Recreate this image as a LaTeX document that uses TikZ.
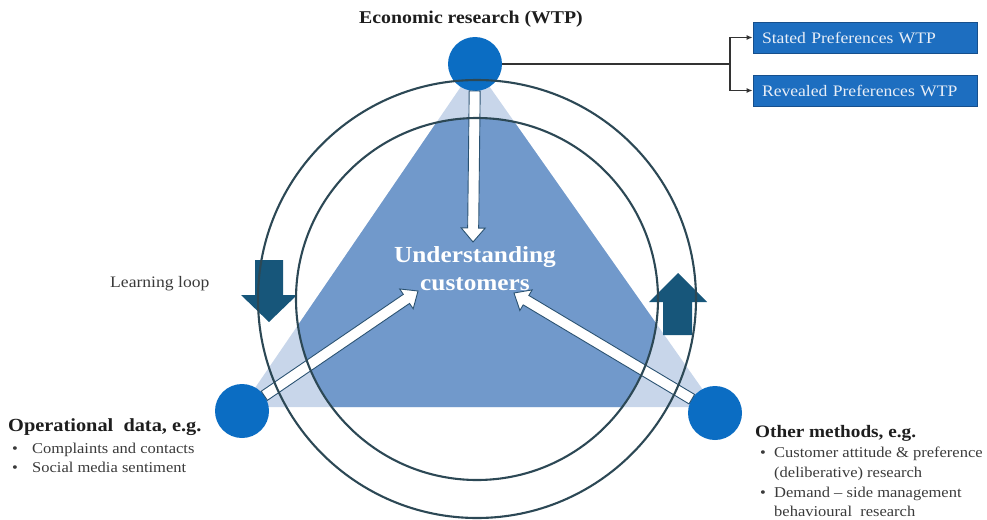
\documentclass[tikz,border=0pt]{standalone}
\usepackage{fontspec}
\setmainfont{Liberation Serif}[FakeStretch=1.1]
\usetikzlibrary{calc,arrows.meta}

\definecolor{hubblue}{HTML}{0B6DC3}
\definecolor{trilight}{HTML}{C8D6EA}
\definecolor{tridark}{HTML}{7199CB}
\definecolor{ringline}{HTML}{2C4855}
\definecolor{loopteal}{HTML}{17567A}
\definecolor{hollowedge}{HTML}{2A5272}
\definecolor{boxfill}{HTML}{1D6EC0}
\definecolor{boxedge}{HTML}{164F8C}
\definecolor{boxtext}{HTML}{E8EEF7}
\definecolor{labeltext}{HTML}{1E1E1E}
\definecolor{listtext}{HTML}{3A3A3A}

% hollow white arrow from node #1 to tip coordinate #2
\newcommand\hollowarrow[2]{%
  \path ($(#1)!27pt!(#2)$) coordinate (ha-s)
        ($(#2)!14pt!(#1)$) coordinate (ha-h);
  \filldraw[hollow]
    ($(ha-s)!5.5pt!90:(#2)$) -- ($(ha-h)!5.5pt!90:(#2)$) --
    ($(ha-h)!12pt!90:(#2)$) -- (#2) --
    ($(ha-h)!12pt!-90:(#2)$) -- ($(ha-h)!5.5pt!-90:(#2)$) --
    ($(ha-s)!5.5pt!-90:(#2)$) -- cycle;}

\begin{document}
\begin{tikzpicture}[x=1pt,y=-1pt,
  hubdot/.style={circle,fill=hubblue,minimum size=54pt,inner sep=0pt},
  ring/.style={draw=ringline,line width=2.1pt},
  hollow/.style={fill=white,draw=hollowedge,line width=0.9pt,line join=miter},
  loopshape/.style={fill=loopteal},
  conn/.style={draw=black!80,line width=1.1pt},
  prefbox/.style={fill=boxfill,draw=boxedge,line width=0.8pt,text=boxtext,
    minimum height=31pt,text width=206pt,align=left,inner xsep=9pt,
    font=\fontsize{16}{18}\selectfont},
  headlab/.style={text=labeltext,inner sep=0pt,
    font=\fontsize{18}{20}\selectfont\bfseries},
  sidelab/.style={text=labeltext,inner sep=0pt,
    font=\fontsize{17.5}{20}\selectfont\bfseries},
  listline/.style={text=listtext,inner sep=0pt,
    font=\fontsize{15}{18}\selectfont},
  looplab/.style={text=listtext,inner sep=0pt,
    font=\fontsize{16}{18}\selectfont},
  centrelab/.style={text=white,inner sep=0pt,align=center,
    font=\fontsize{23}{28}\selectfont\bfseries}]
\useasboundingbox (0,0) rectangle (987,519);

% geometry
\coordinate (ctr) at (477,299);
\coordinate (vT) at (475,66);
\coordinate (vL) at (242,407);
\coordinate (vR) at (715,407);

% shaded triangle, darker inside the inner ring
\fill[trilight] (vT) -- (vL) -- (vR) -- cycle;
\begin{scope}
  \clip (ctr) circle[radius=181pt];
  \fill[tridark] (vT) -- (vL) -- (vR) -- cycle;
\end{scope}

% learning-loop block arrows
\fill[loopshape] (255,260) -- (283,260) -- (283,295) -- (297,295) --
  (269,322) -- (241,295) -- (255,295) -- cycle;
\fill[loopshape] (663,335) -- (692,335) -- (692,302) -- (707,302) --
  (678,273) -- (649,302) -- (663,302) -- cycle;

% three research sources
\node[hubdot] (nT) at (475,64) {};
\node[hubdot] (nL) at (242,411) {};
\node[hubdot] (nR) at (715,413) {};

% arrows into the centre
\coordinate (tT) at (473,242);
\coordinate (tL) at (418,291);
\coordinate (tR) at (514,293);
\hollowarrow{nT}{tT}
\hollowarrow{nL}{tL}
\hollowarrow{nR}{tR}

% rings
\draw[ring] (ctr) circle[radius=219pt];
\draw[ring] (ctr) circle[radius=181pt];

\node[centrelab] (hub) at (475,269) {Understanding\\customers};

% WTP branches
\node[prefbox] (sp) at (865,37.5) {Stated Preferences WTP};
\node[prefbox] (rp) at (865,90.5) {Revealed Preferences WTP};
\coordinate (split) at (730,64);
\draw[conn] (nT.east) -- (split);
\draw[conn,-{Latex[length=6pt,width=5pt]}] (split) |- (sp.west);
\draw[conn,-{Latex[length=6pt,width=5pt]}] (split) |- (rp.west);

% labels
\node[headlab,anchor=base] (econ) at (471,24) {Economic research (WTP)};
\node[looplab,anchor=base west] (loop) at (110,287) {Learning loop};

\node[sidelab,anchor=base west,font=\fontsize{18.5}{20}\selectfont\bfseries]
  (ops) at (8,431) {Operational\ \ data, e.g.};
\node[listline,anchor=base west] (opsb1) at (12,453) {\textbullet};
\node[listline,anchor=base west] (ops1) at (32,453) {Complaints and contacts};
\node[listline,anchor=base west] (opsb2) at (12,472) {\textbullet};
\node[listline,anchor=base west] (ops2) at (32,472) {Social media sentiment};

\node[sidelab,anchor=base west] (oth) at (755,437) {Other methods, e.g.};
\node[listline,anchor=base west] (othb1) at (760,457) {\textbullet};
\node[listline,anchor=base west] (oth1) at (774,457) {Customer attitude \& preference};
\node[listline,anchor=base west] (oth1b) at (774,477) {(deliberative) research};
\node[listline,anchor=base west] (othb2) at (760,497) {\textbullet};
\node[listline,anchor=base west] (oth2) at (774,497) {Demand -- side management};
\node[listline,anchor=base west] (oth2b) at (774,516) {behavioural\ \ research};
\end{tikzpicture}
\end{document}
